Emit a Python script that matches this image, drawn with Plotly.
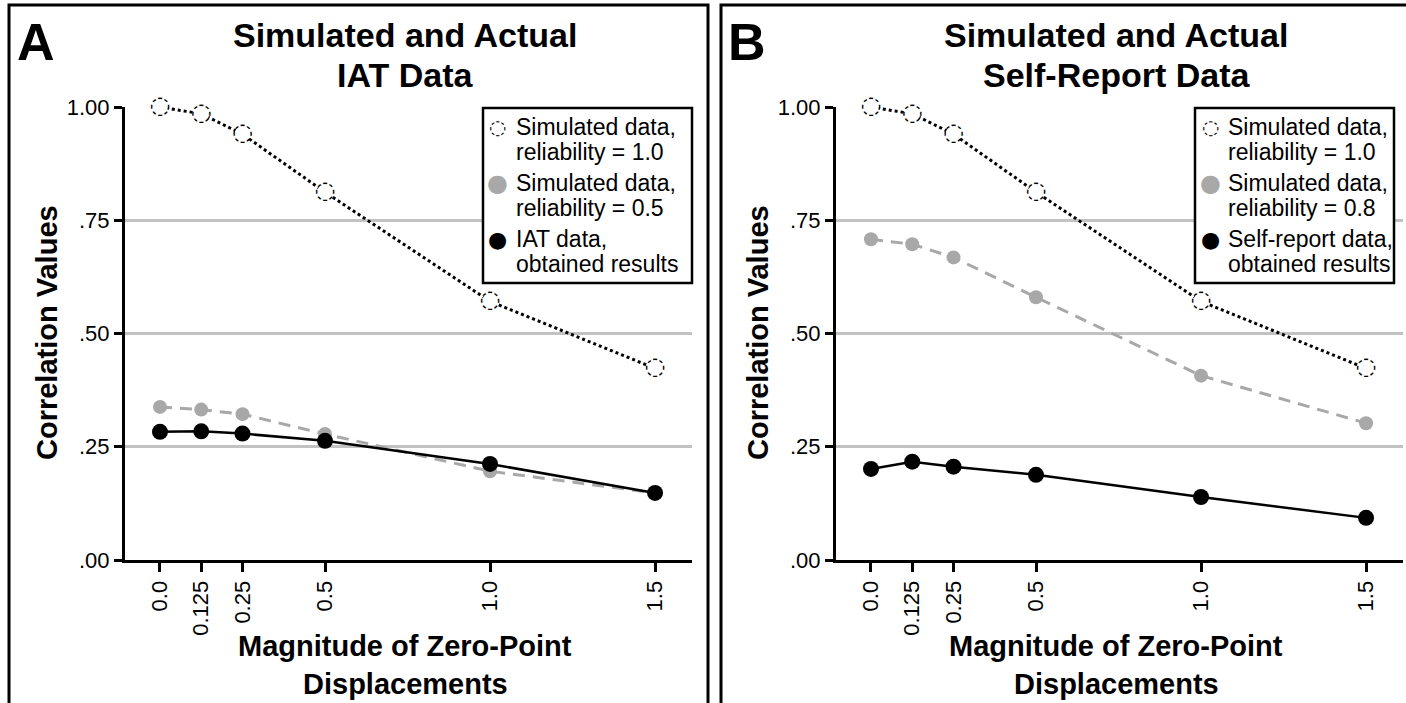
import plotly.graph_objects as go

# ---------------- data ----------------
x_vals = [0.0, 0.125, 0.25, 0.5, 1.0, 1.5]
x_ticktext = ["0.0", "0.125", "0.25", "0.5", "1.0", "1.5"]
y_tickvals = [0.0, 0.25, 0.50, 0.75, 1.00]
y_ticktext = [".00", ".25", ".50", ".75", "1.00"]

# Panel A: IAT
a_sim_rel10 = [1.000, 0.985, 0.940, 0.812, 0.571, 0.423]
a_sim_rel05 = [0.338, 0.332, 0.322, 0.278, 0.196, 0.148]
a_iat_obt = [0.283, 0.284, 0.279, 0.263, 0.212, 0.148]

# Panel B: Self-report
b_sim_rel10 = [1.000, 0.985, 0.940, 0.812, 0.571, 0.423]
b_sim_rel08 = [0.708, 0.697, 0.668, 0.580, 0.407, 0.302]
b_sr_obt = [0.201, 0.217, 0.206, 0.188, 0.139, 0.093]

panel_titles = [("Simulated and Actual", "IAT Data"),
                ("Simulated and Actual", "Self-Report Data")]
panel_letters = ["A", "B"]
legend_texts = [
    [("Simulated data,", "reliability = 1.0"), ("Simulated data,", "reliability = 0.5"),
     ("IAT data,", "obtained results")],
    [("Simulated data,", "reliability = 1.0"), ("Simulated data,", "reliability = 0.8"),
     ("Self-report data,", "obtained results")],
]

FONT = "Liberation Sans, Arial, Helvetica, sans-serif"
SYMFONT = "DejaVu Sans"
W, H = 1406, 703
GRAY = "#a8a8a8"


def px(x):
    return x / W


def py(y):
    return 1 - y / H


fig = go.Figure()

panels = [
    dict(series=[a_sim_rel10, a_sim_rel05, a_iat_obt], xa="x", ya="y"),
    dict(series=[b_sim_rel10, b_sim_rel08, b_sr_obt], xa="x2", ya="y2"),
]

for pi, p in enumerate(panels):
    s10, s_mid, s_obt = p["series"]
    # simulated reliability 1.0 : dotted line, dotted open circles
    fig.add_trace(go.Scatter(x=x_vals, y=s10, mode="lines+markers",
                             line=dict(color="black", width=3, dash="dot"),
                             marker=dict(symbol="circle", size=16, color="white",
                                         line=dict(width=0)),
                             xaxis=p["xa"], yaxis=p["ya"], showlegend=False,
                             cliponaxis=False, hoverinfo="skip"))
    fig.add_trace(go.Scatter(x=x_vals, y=s10, mode="text", text=["◌"] * len(x_vals),
                             textposition="middle center",
                             textfont=dict(family=SYMFONT, size=24, color="black"),
                             xaxis=p["xa"], yaxis=p["ya"], showlegend=False,
                             cliponaxis=False, hoverinfo="skip"))
    # simulated mid reliability : gray dashed
    fig.add_trace(go.Scatter(x=x_vals, y=s_mid, mode="lines+markers",
                             line=dict(color=GRAY, width=3, dash="12px,8px"),
                             marker=dict(symbol="circle", size=14, color=GRAY,
                                         line=dict(width=0)),
                             xaxis=p["xa"], yaxis=p["ya"], showlegend=False,
                             cliponaxis=False, hoverinfo="skip"))
    # obtained results : black solid
    fig.add_trace(go.Scatter(x=x_vals, y=s_obt, mode="lines+markers",
                             line=dict(color="black", width=2.5),
                             marker=dict(symbol="circle", size=16, color="black",
                                         line=dict(width=0)),
                             xaxis=p["xa"], yaxis=p["ya"], showlegend=False,
                             cliponaxis=False, hoverinfo="skip"))

xdom = [[px(125), px(692)], [px(836), px(1403)]]
ydom = [py(560), py(107)]
xrange_ = [-0.106, 1.612]

axis_common_x = dict(range=xrange_, tickvals=x_vals, ticktext=x_ticktext, tickangle=-90,
                     showline=True, linecolor="black", linewidth=3, ticks="outside",
                     ticklen=9, tickwidth=3, tickcolor="black", showgrid=False,
                     zeroline=False, tickfont=dict(family=FONT, size=22, color="black"),
                     fixedrange=True, automargin=False)
axis_common_y = dict(range=[0, 1], tickvals=y_tickvals, ticktext=y_ticktext,
                     showline=True, linecolor="black", linewidth=3, ticks="outside",
                     ticklen=8, tickwidth=3, tickcolor="black", showgrid=True,
                     gridcolor="#c2c2c2", gridwidth=3, zeroline=False,
                     tickfont=dict(family=FONT, size=22, color="black"), fixedrange=True,
                     automargin=False)

fig.update_layout(
    xaxis=dict(domain=xdom[0], anchor="y", **axis_common_x),
    yaxis=dict(domain=ydom, anchor="x", **axis_common_y),
    xaxis2=dict(domain=xdom[1], anchor="y2", **axis_common_x),
    yaxis2=dict(domain=ydom, anchor="x2", **axis_common_y),
)

# panel frames
fig.add_shape(type="rect", xref="paper", yref="paper", x0=px(9), x1=px(708),
              y0=-0.05, y1=py(5), line=dict(color="black", width=3), layer="above")
fig.add_shape(type="rect", xref="paper", yref="paper", x0=px(721), x1=1.05,
              y0=-0.05, y1=py(5), line=dict(color="black", width=3), layer="above")

offs = [0, 711]
legend_right = [692, 1394]
legend_left = [483, 1195]
sym_glyph = ["◌", "●", "●"]
sym_color = ["black", GRAY, "black"]
sym_size = [20, 24, 22]

for pi in range(2):
    o = offs[pi]
    fig.add_annotation(text=panel_letters[pi], xref="paper", yref="paper",
                       x=px(36 + o), y=py(42), showarrow=False,
                       font=dict(family=FONT, size=52, color="black", weight="bold"),
                       xanchor="center", yanchor="middle")
    for li, yc in enumerate([35, 75]):
        fig.add_annotation(text=panel_titles[pi][li], xref="paper", yref="paper",
                           x=px(405 + o), y=py(yc), showarrow=False,
                           font=dict(family=FONT, size=34, color="black", weight="bold"),
                           xanchor="center", yanchor="middle")
    fig.add_annotation(text="Correlation Values", xref="paper", yref="paper",
                       x=px(47 + o), y=py(333), showarrow=False, textangle=-90,
                       font=dict(family=FONT, size=29, color="black", weight="bold"),
                       xanchor="center", yanchor="middle")
    fig.add_annotation(text="Magnitude of Zero-Point", xref="paper", yref="paper",
                       x=px(405 + o), y=py(646), showarrow=False,
                       font=dict(family=FONT, size=29, color="black", weight="bold"),
                       xanchor="center", yanchor="middle")
    fig.add_annotation(text="Displacements", xref="paper", yref="paper",
                       x=px(405 + o), y=py(684), showarrow=False,
                       font=dict(family=FONT, size=29, color="black", weight="bold"),
                       xanchor="center", yanchor="middle")

    # legend box (drawn manually)
    lx0 = legend_left[pi]
    lx1 = legend_right[pi]
    fig.add_shape(type="rect", xref="paper", yref="paper", x0=px(lx0), x1=px(lx1),
                  y0=py(283), y1=py(108), line=dict(color="black", width=2.5),
                  fillcolor="white", layer="above")
    for k in range(3):
        yc = 127 + 56 * k
        fig.add_annotation(text=sym_glyph[k], xref="paper", yref="paper",
                           x=px(lx0 + 15), y=py(yc), showarrow=False,
                           font=dict(family=SYMFONT, size=sym_size[k], color=sym_color[k]),
                           xanchor="center", yanchor="middle")
        for li in range(2):
            fig.add_annotation(text=legend_texts[pi][k][li], xref="paper", yref="paper",
                               x=px(lx0 + 31), y=py(yc + 25 * li), showarrow=False,
                               font=dict(family=FONT, size=23, color="black"),
                               xanchor="left", yanchor="middle")

fig.update_layout(width=W, height=H, autosize=False, showlegend=False,
                  margin=dict(l=0, r=0, t=0, b=0, pad=0, autoexpand=False),
                  paper_bgcolor="white", plot_bgcolor="white",
                  font=dict(family=FONT, color="black"))

fig.write_html("out.html", config={"displayModeBar": False},
               post_script="document.body.style.margin='0';document.body.style.overflow='hidden';")
